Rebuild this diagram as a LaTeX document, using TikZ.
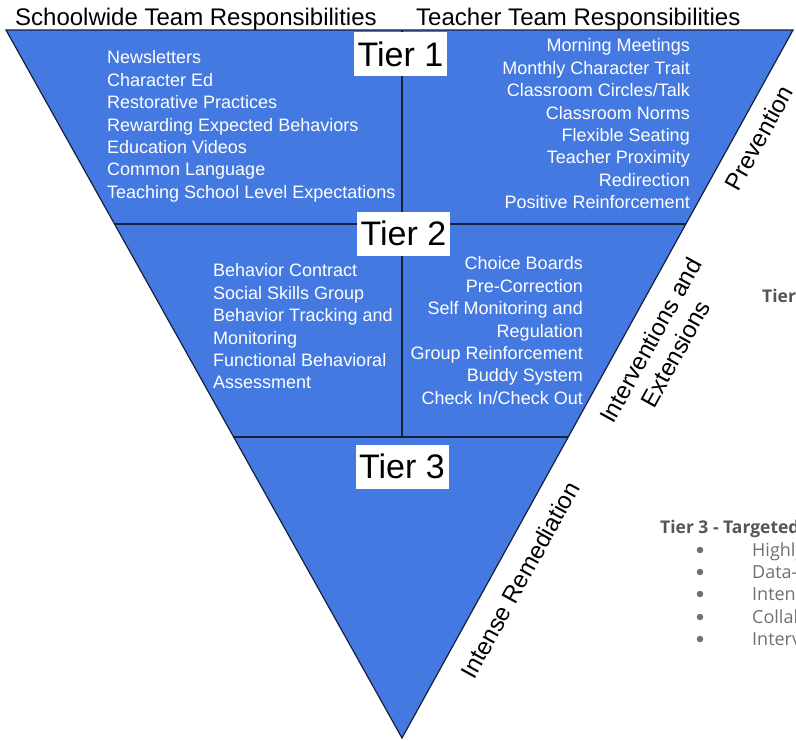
\documentclass[tikz,border=0pt]{standalone}
\usepackage{fontspec}
\usetikzlibrary{calc}
\setmainfont{Liberation Sans}
\newfontfamily\osans{Open Sans}
\definecolor{tierblue}{HTML}{4479E1}
\definecolor{edgecol}{HTML}{15203A}
\definecolor{sidegray}{HTML}{555555}
\definecolor{bulletgray}{HTML}{707070}
\begin{document}
\begin{tikzpicture}[x=1pt,y=-1pt,
  item/.style={text=white, font=\fontsize{18}{22.4}\selectfont, inner sep=0},
  tierlabel/.style={fill=white, minimum width=93pt, minimum height=44pt, inner sep=0, font=\fontsize{34}{40}\selectfont},
  header/.style={font=\fontsize{24}{28}\selectfont, inner sep=0},
  sidelabel/.style={font=\fontsize{24}{28}\selectfont, rotate=61.1, align=center, inner sep=0},
  ghostbold/.style={text=sidegray, font=\osans\bfseries\fontsize{17.5}{20}\selectfont, inner sep=0},
  ghost/.style={text=bulletgray, font=\osans\fontsize{18}{21}\selectfont, inner sep=0},
  ghostdot/.style={circle, fill=bulletgray, inner sep=0, minimum size=6.5pt},
  divider/.style={draw=edgecol, line width=1.3pt}]
\useasboundingbox (0,0) rectangle (796,740);
\clip (0,0) rectangle (796,740);

% headers
\node[header, anchor=base west] (hschool) at (15,25.6) {Schoolwide Team Responsibilities};
\node[header, anchor=base west] (hteacher) at (416,25.6) {Teacher Team Responsibilities};

% triangle
\coordinate (TL) at (6,30);
\coordinate (TR) at (793,30);
\coordinate (B) at (402,738);
\filldraw[fill=tierblue, draw=edgecol, line width=1.2pt, line join=miter] (TL) -- (TR) -- (B) -- cycle;

\coordinate (L12) at ($(TL)!0.274!(B)$);
\coordinate (R12) at ($(TR)!0.274!(B)$);
\coordinate (L23) at ($(TL)!0.575!(B)$);
\coordinate (R23) at ($(TR)!0.575!(B)$);
\coordinate (VT) at (402,30);
\coordinate (VB) at (402,437);
\draw[divider] (L12) -- (R12);
\draw[divider] (L23) -- (R23);
\draw[divider] (VT) -- (VB);

% tier labels
\node[tierlabel] (tier1) at (400.5,54) {Tier 1};
\node[tierlabel] (tier2) at (403.5,233.5) {Tier 2};
\node[tierlabel] (tier3) at (402,466.5) {Tier 3};

% tier 1 lists
\node[item, anchor=north west, align=left] (t1left) at (107,50.6) {Newsletters\\Character Ed\\Restorative Practices\\Rewarding Expected Behaviors\\Education Videos\\Common Language\\Teaching School Level Expectations};
\node[item, anchor=north east, align=right] (t1right) at (690,38.6) {Morning Meetings\\Monthly Character Trait\\Classroom Circles/Talk\\Classroom Norms\\Flexible Seating\\Teacher Proximity\\Redirection\\Positive Reinforcement};

% tier 2 lists
\node[item, anchor=north west, align=left] (t2left) at (213,263.6) {Behavior Contract\\Social Skills Group\\Behavior Tracking and\\Monitoring\\Functional Behavioral\\Assessment};
\node[item, anchor=north east, align=right] (t2right) at (583,256.6) {Choice Boards\\Pre-Correction\\Self Monitoring and\\Regulation\\Group Reinforcement\\Buddy System\\Check In/Check Out};

% side labels
\node[sidelabel] (prev) at (759,138) {Prevention};
\node[sidelabel] (interv) at (663,347) {Interventions and\\Extensions};
\node[sidelabel] (intense) at (520,580) {Intense Remediation};

% cropped background text
\node[ghostbold, anchor=base west] (gtier) at (762,302) {Tier};
\node[ghostbold, anchor=base west] (gtier3) at (660,533) {Tier 3 - Targeted};
\foreach \yy/\tx [count=\i] in {550/Highly, 572/Data-, 594/Intens, 617/Collab, 639/Interv} {
  \node[ghostdot] (gb\i) at (700,\yy) {};
  \node[ghost, anchor=base west] (gt\i) at ($(752,\yy)+(0,6.5)$) {\tx};
}
\end{tikzpicture}
\end{document}
